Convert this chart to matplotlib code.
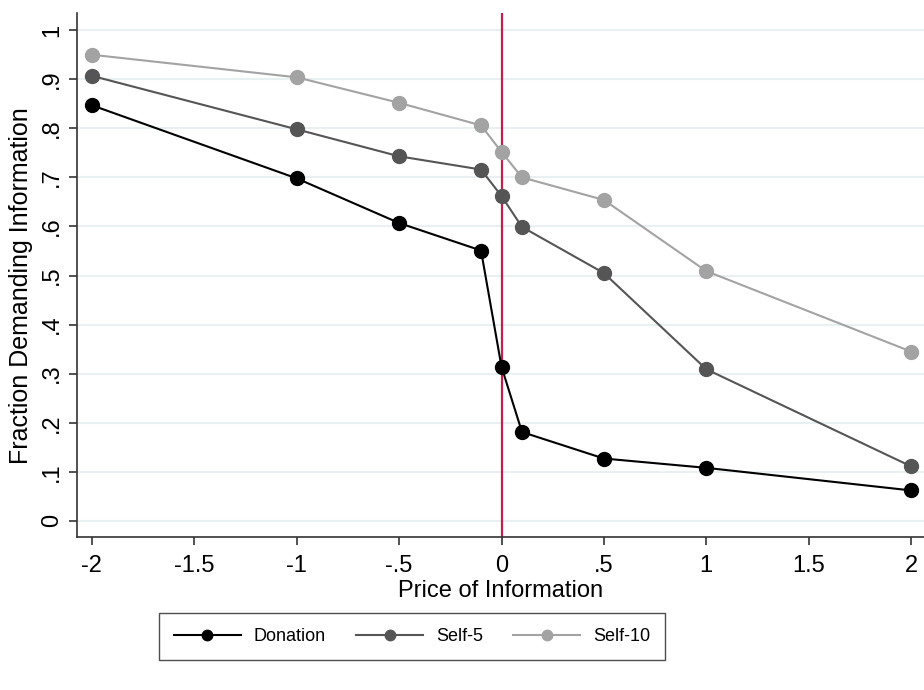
import matplotlib
matplotlib.use("Agg")
import matplotlib.pyplot as plt

plt.rcParams['font.family'] = ['Liberation Sans', 'DejaVu Sans']

price = [-2, -1, -0.5, -0.1, 0, 0.1, 0.5, 1, 2]
donation = [0.847, 0.698, 0.607, 0.551, 0.314, 0.181, 0.127, 0.108, 0.062]
self5 = [0.907, 0.798, 0.743, 0.716, 0.662, 0.599, 0.505, 0.309, 0.111]
self10 = [0.950, 0.904, 0.852, 0.806, 0.752, 0.700, 0.654, 0.509, 0.345]

xticks = [-2, -1.5, -1, -0.5, 0, 0.5, 1, 1.5, 2]
xticklabels = ['-2', '-1.5', '-1', '-.5', '0', '.5', '1', '1.5', '2']
yticks = [0, 0.1, 0.2, 0.3, 0.4, 0.5, 0.6, 0.7, 0.8, 0.9, 1]
yticklabels = ['0', '.1', '.2', '.3', '.4', '.5', '.6', '.7', '.8', '.9', '1']

fig = plt.figure(figsize=(9.24, 6.9), dpi=100)
ax = fig.add_axes([0.0833, 0.2217, 0.9167, 0.7594])

for y in yticks:
    ax.axhline(y, color='#e8f0f2', linewidth=1.5, zorder=0)

ax.axvline(0, color='#c41e4a', linewidth=1.6, zorder=1)

series = [(donation, 'black', 'Donation'),
          (self5, '#555555', 'Self-5'),
          (self10, '#a3a3a3', 'Self-10')]
for vals, col, lab in series:
    ax.plot(price, vals, color=col, linewidth=1.5, marker='o', markersize=10,
            markeredgecolor=col, label=lab, zorder=3, clip_on=False)

ax.set_xlim(-2.073, 2.063)
ax.set_ylim(-0.033, 1.035)
ax.set_xticks(xticks)
ax.set_xticklabels(xticklabels, fontsize=17)
ax.set_yticks(yticks)
ax.set_yticklabels(yticklabels, fontsize=17, rotation=90, va='center')
ax.tick_params(axis='both', length=6, width=1.2, color='#333333')
ax.tick_params(axis='x', pad=7)
ax.tick_params(axis='y', pad=4)
ax.spines['top'].set_visible(False)
ax.spines['right'].set_visible(False)
ax.spines['left'].set_linewidth(1.2)
ax.spines['bottom'].set_linewidth(1.2)
ax.spines['left'].set_color('#333333')
ax.spines['bottom'].set_color('#333333')

ax.set_xlabel('Price of Information', fontsize=17, labelpad=2)
ax.set_ylabel('Fraction Demanding Information', fontsize=18)
ax.yaxis.set_label_coords(-0.052, 0.48)

handles, labels = ax.get_legend_handles_labels()
leg = fig.legend(handles, labels, loc='center', ncol=3,
                 bbox_to_anchor=(0.4459, 0.0775), fontsize=13,
                 frameon=True, fancybox=False, edgecolor='#222222',
                 markerscale=0.75, handlelength=3.7, columnspacing=1.7,
                 borderpad=0.85, handletextpad=0.7)
leg.get_frame().set_linewidth(1.0)

fig.savefig('out.png', dpi=100)
